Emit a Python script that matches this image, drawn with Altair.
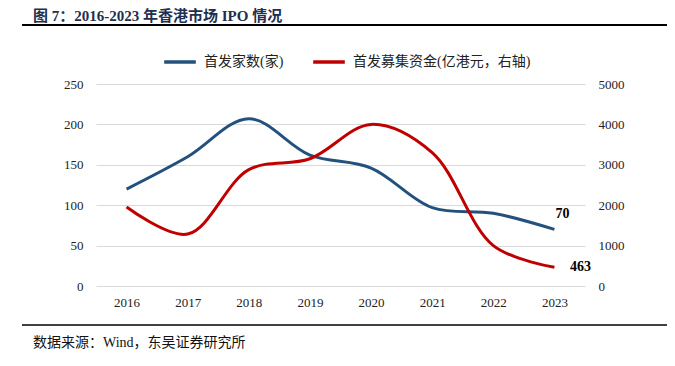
import altair as alt
import pandas as pd

years = ["2016", "2017", "2018", "2019", "2020", "2021", "2022", "2023"]
ipo_count = [120, 160, 207, 162, 146, 97, 90, 70]
ipo_funds = [1955, 1285, 2880, 3150, 4000, 3300, 1000, 463]
series_names = ["首发家数(家)", "首发募集资金(亿港元，右轴)"]

df = pd.DataFrame({"year": years, "count": ipo_count, "funds": ipo_funds})
df["s1"] = series_names[0]
df["s2"] = series_names[1]

FONT = "Liberation Serif, Noto Sans CJK SC"
BLUE = "#23517E"
RED = "#C00000"

x = alt.X("year:O", scale=alt.Scale(type="point", padding=0.5),
          axis=alt.Axis(title=None, labelAngle=0, domain=False, ticks=False,
                        labelPadding=10, labelFont=FONT, labelFontSize=13,
                        labelColor="#222222", grid=False))

base = alt.Chart(df)

line1 = base.mark_line(interpolate="catmull-rom", strokeWidth=3).encode(
    x=x,
    y=alt.Y("count:Q", scale=alt.Scale(domain=[0, 250]),
            axis=alt.Axis(title=None, values=[0, 50, 100, 150, 200, 250], domain=False,
                          ticks=False, labelPadding=13, labelFont=FONT, labelFontSize=13,
                          labelColor="#222222", gridColor="#d9d9d9", gridWidth=1)),
    color=alt.Color("s1:N", scale=alt.Scale(domain=series_names, range=[BLUE, RED]),
                    legend=alt.Legend(title=None, orient="none", legendX=66, legendY=-40,
                                      direction="horizontal", symbolType="stroke",
                                      symbolSize=1000, symbolStrokeWidth=3.5,
                                      labelFont=FONT, labelFontSize=14, labelColor="#222222",
                                      labelLimit=400, columnPadding=22, labelOffset=6)),
)

label1 = base.transform_filter(alt.datum.year == "2023").mark_text(
    font=FONT, fontSize=14, fontWeight="bold", color="#000000", dx=8, dy=-15, align="center"
).encode(x=x, y=alt.Y("count:Q", scale=alt.Scale(domain=[0, 250])), text="count:Q")

left = alt.layer(line1, label1)

line2 = base.mark_line(interpolate="catmull-rom", strokeWidth=3).encode(
    x=x,
    y=alt.Y("funds:Q", scale=alt.Scale(domain=[0, 5000]),
            axis=alt.Axis(title=None, orient="right", values=[0, 1000, 2000, 3000, 4000, 5000],
                          format="d", domain=False, ticks=False, grid=False, labelPadding=13,
                          labelFont=FONT, labelFontSize=13, labelColor="#222222")),
    color=alt.Color("s2:N", scale=alt.Scale(domain=series_names, range=[BLUE, RED])),
)

label2 = base.transform_filter(alt.datum.year == "2023").mark_text(
    font=FONT, fontSize=14, fontWeight="bold", color="#000000", dx=26, dy=0, align="center"
).encode(x=x, y=alt.Y("funds:Q", scale=alt.Scale(domain=[0, 5000])), text="funds:Q")

right = alt.layer(line2, label2)

deco_df = pd.DataFrame({"t": ["图 7：2016-2023 年香港市场 IPO 情况"],
                        "s": ["数据来源：Wind，东吴证券研究所"]})
title_txt = alt.Chart(deco_df).mark_text(
    font=FONT, fontSize=15, fontWeight="bold", color="#1F2F4F", align="left", baseline="middle"
).encode(x=alt.value(-63), y=alt.value(-68), text="t:N")
title_rule = alt.Chart(deco_df).mark_rule(color="#000000", strokeWidth=2).encode(
    x=alt.value(-74), x2=alt.value(590), y=alt.value(-59))
src_rule = alt.Chart(deco_df).mark_rule(color="#000000", strokeWidth=1.5).encode(
    x=alt.value(-74), x2=alt.value(590), y=alt.value(241))
src_txt = alt.Chart(deco_df).mark_text(
    font=FONT, fontSize=14, color="#111111", align="left", baseline="middle"
).encode(x=alt.value(-63), y=alt.value(259), text="s:N")

chart = alt.layer(left, right, title_txt, title_rule, src_rule, src_txt).resolve_scale(
    y="independent"
).properties(
    width=489, height=202,
    autosize=alt.AutoSizeParams(type="none"),
    padding={"left": 88, "top": 76, "right": 82, "bottom": 72},
).configure_view(stroke=None)

chart.save("out.html", embed_options={"renderer": "svg", "actions": False})
